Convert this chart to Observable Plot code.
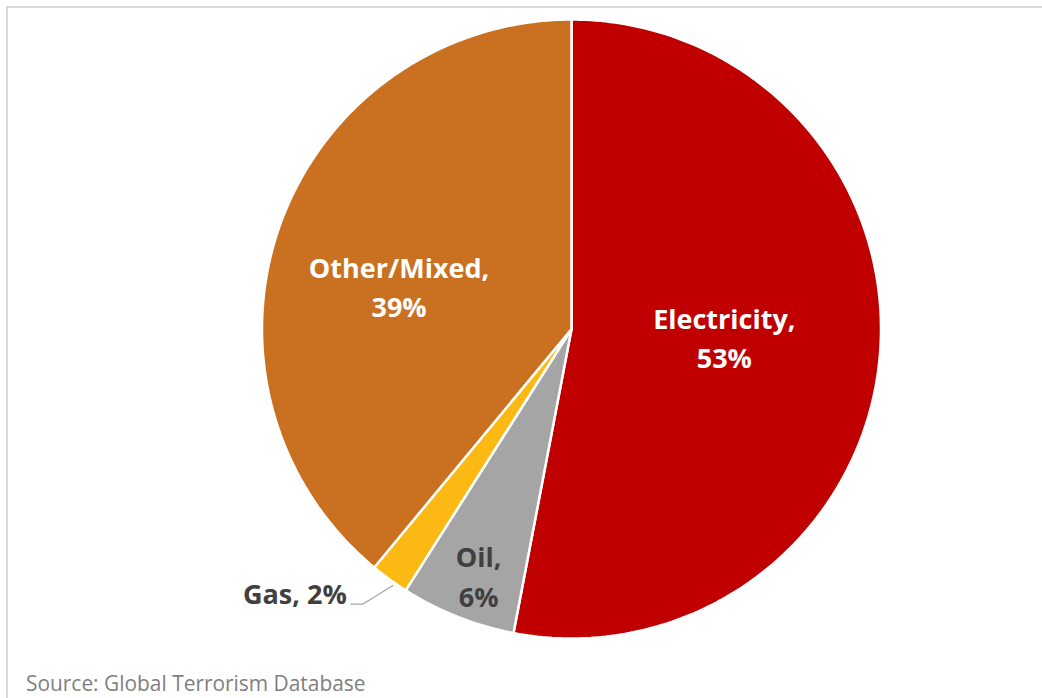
<!DOCTYPE html>
<html><head><meta charset="utf-8">
<script src="https://cdn.jsdelivr.net/npm/d3@7"></script>
<script src="https://cdn.jsdelivr.net/npm/@observablehq/plot@0.6"></script>
<style>
html,body{margin:0;padding:0;background:#fff;overflow:hidden;}
#wrap{position:relative;width:1042px;height:698px;}
#frame{position:absolute;left:6px;top:6px;width:2000px;height:2000px;border-top:2px solid #d9d9d9;border-left:2px solid #d9d9d9;pointer-events:none;z-index:2}
#caption{font-family:"Open Sans",sans-serif;font-size:20.9px;color:#7f7f7f;padding-left:26px;line-height:30px;white-space:nowrap;}
</style></head><body>
<div id="wrap"><div id="frame"></div><div id="chart"></div><div id="caption">Source: Global Terrorism Database</div></div>
<script>
// Data
const categories = ["Electricity", "Oil", "Gas", "Other/Mixed"];
const shares = [53, 6, 2, 39];
const sliceColors = ["#C00000", "#A5A5A5", "#FDB913", "#C97021"];
const labelColors = ["#ffffff", "#404040", "#404040", "#ffffff"];

// Layout (label placement styles)
const labelLayout = {
  "Electricity": {r: 0.47, dx: 8, dy: -7, wrap: true},
  "Oil": {r: 0.85, dx: 4, dy: 1, wrap: true},
  "Gas": {r: 1.0, dx: 0, dy: 0, wrap: false, outside: true},
  "Other/Mixed": {r: 0.575, dx: -5, dy: 16, wrap: true}
};

const rows = categories.map((c, i) => ({category: c, value: shares[i], color: sliceColors[i], labelColor: labelColors[i]}));
const arcs = d3.pie().sort(null).value(d => d.value)(rows);

const pt = (a, r) => ({x: r * Math.sin(a), y: r * Math.cos(a)});

// slice polygons
const slicePts = [];
arcs.forEach(a => {
  const n = Math.max(2, Math.ceil((a.endAngle - a.startAngle) / (2 * Math.PI) * 400));
  slicePts.push({...pt(0, 0), category: a.data.category, color: a.data.color});
  for (let k = 0; k <= n; k++) {
    const ang = a.startAngle + (a.endAngle - a.startAngle) * k / n;
    slicePts.push({...pt(ang, 1), category: a.data.category, color: a.data.color});
  }
  slicePts.push({...pt(0, 0), category: a.data.category, color: a.data.color});
});

// labels
const inside = [], outside = [], leader = [];
arcs.forEach(a => {
  const L = labelLayout[a.data.category];
  const mid = (a.startAngle + a.endAngle) / 2;
  const text = L.wrap ? `${a.data.category},\n${a.data.value}%` : `${a.data.category}, ${a.data.value}%`;
  if (L.outside) {
    const p0 = pt(mid - 0.02, 1.01), p1 = pt(mid + 0.02, 1.115);
    const p2 = {x: p1.x - 0.04, y: p1.y};
    leader.push(p0, p1, p2);
    outside.push({x: p2.x, y: p2.y, text, color: a.data.labelColor});
  } else {
    const p = pt(mid, L.r);
    inside.push({x: p.x, y: p.y, text, color: a.data.labelColor, dx: L.dx, dy: L.dy});
  }
});

const font = "Open Sans";
const chart = Plot.plot({
  width: 1042,
  height: 668,
  margin: 0,
  style: {background: "transparent"},
  x: {domain: [-1, 1], range: [261.5, 880.5], axis: null},
  y: {domain: [-1, 1], range: [638, 19], axis: null},
  marks: [
    Plot.line(slicePts, {x: "x", y: "y", z: "category", fill: "color", stroke: "white", strokeWidth: 2.5, strokeLinejoin: "miter", curve: "linear"}),
    Plot.line(leader, {x: "x", y: "y", stroke: "#a6a6a6", strokeWidth: 1.3}),
    ...inside.map(d => Plot.text([d], {x: "x", y: "y", text: "text", fill: d.color, fontFamily: font, fontWeight: "bold", fontSize: 27, lineHeight: 1.48, dx: d.dx, dy: d.dy})),
    Plot.text(outside, {x: "x", y: "y", text: "text", fill: "color", fontFamily: font, fontWeight: "bold", fontSize: 27, textAnchor: "end", dx: -4, dy: -9})
  ]
});
document.getElementById("chart").appendChild(chart);
</script>
</body></html>
